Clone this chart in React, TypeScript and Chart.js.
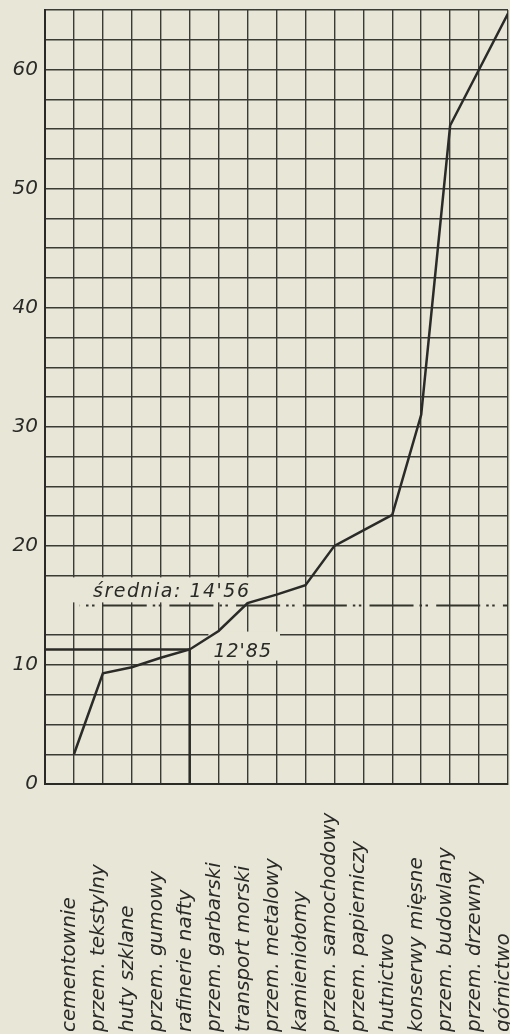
import React, { useEffect, useRef } from "react";
import { Chart, registerables } from "chart.js";

Chart.register(...registerables);

// ---- data ----
const categories = [
  "cementownie",
  "przem. tekstylny",
  "huty szklane",
  "przem. gumowy",
  "rafinerie nafty",
  "przem. garbarski",
  "transport morski",
  "przem. metalowy",
  "kamieniołomy",
  "przem. samochodowy",
  "przem. papierniczy",
  "hutnictwo",
  "konserwy mięsne",
  "przem. budowlany",
  "przem. drzewny",
  "górnictwo",
];
const ranks = [1, 2, 3, 4, 5, 6, 7, 8, 9, 10, 11, 12, 13, 14, 15, 16];
const values = [2.5, 9.3, 9.8, 10.6, 11.3, 12.85, 15.2, 15.9, 16.7, 20.0, 21.3, 22.6, 31.0, 55.3, 60.0, 64.7];

const yLabelValues = [0, 10, 20, 30, 40, 50, 60];
const yMax = 65;
const yGridStep = 2.5;

const averageText = "średnia: 14'56";
const averageLevel = 15; // where the dash-dot line is drawn in the picture
const averageFrom = 1.2;
const averageTo = 16;
const averageLabelAt = { x: 1.66, y: 15 };

const markerRank = 5;
const markerLevel = 11.3;

const valueText = "12'85";
const valueLabelAt = { x: 5.82, y: 10.7 };

// ---- styles ----
const PAPER = "#e8e6d6";
const INK = "#2a2a28";
const GRID = "#3a3a36";
const FONT = "'DejaVu Sans', sans-serif";

export default function App() {
  const ref = useRef<HTMLCanvasElement | null>(null);

  useEffect(() => {
    const canvas = ref.current;
    if (!canvas) return;

    const paperPlugin = {
      id: "paper",
      beforeDraw(chart: any) {
        const { ctx, width, height } = chart;
        ctx.save();
        ctx.fillStyle = PAPER;
        ctx.fillRect(0, 0, width, height);
        ctx.restore();
      },
    };

    const labelBoxes = (chart: any) => {
      const xs = chart.scales.x;
      const ys = chart.scales.y;
      const ctx = chart.ctx;
      const res: any[] = [];
      ctx.save();
      ctx.font = `italic 19px ${FONT}`;
      (ctx as any).letterSpacing = "1.5px";
      const w1 = ctx.measureText(averageText).width;
      ctx.restore();
      const ax = xs.getPixelForValue(averageLabelAt.x);
      const ay = ys.getPixelForValue(averageLabelAt.y) - 8;
      res.push({ text: averageText, x: ax, y: ay, spacing: "1.5px", box: [ax - 22, ay - 20, w1 + 27, 25] });
      ctx.save();
      ctx.font = `italic 19px ${FONT}`;
      (ctx as any).letterSpacing = "1px";
      const w2 = ctx.measureText(valueText).width;
      ctx.restore();
      const vx = xs.getPixelForValue(valueLabelAt.x);
      const vy = ys.getPixelForValue(valueLabelAt.y);
      res.push({ text: valueText, x: vx, y: vy, spacing: "1px", box: [vx - 5, vy - 25, w2 + 13, 29] });
      return res;
    };

    const annotationPlugin = {
      id: "annot",
      beforeDatasetsDraw(chart: any) {
        const ctx = chart.ctx;
        ctx.save();
        ctx.fillStyle = PAPER;
        for (const b of labelBoxes(chart)) {
          ctx.fillRect(b.box[0], b.box[1], b.box[2], b.box[3]);
        }
        ctx.restore();
      },
      afterDatasetsDraw(chart: any) {
        const ctx = chart.ctx;
        for (const b of labelBoxes(chart)) {
          ctx.save();
          ctx.font = `italic 19px ${FONT}`;
          (ctx as any).letterSpacing = b.spacing;
          ctx.fillStyle = INK;
          ctx.textAlign = "left";
          ctx.textBaseline = "alphabetic";
          ctx.fillText(b.text, b.x, b.y);
          ctx.restore();
        }
      },
      afterDraw(chart: any) {
        const ctx = chart.ctx;
        const xs = chart.scales.x;
        const baseY = 1032;
        ctx.save();
        ctx.font = `italic 20px ${FONT}`;
        ctx.fillStyle = INK;
        ctx.textAlign = "left";
        ctx.textBaseline = "alphabetic";
        categories.forEach((c, i) => {
          const px = xs.getPixelForValue(ranks[i]) + 1;
          ctx.save();
          ctx.translate(px, baseY);
          ctx.rotate(-Math.PI / 2);
          ctx.fillText(c, 0, 0);
          ctx.restore();
        });
        ctx.restore();
      },
    };

    const chart = new Chart(canvas, {
      type: "line",
      data: {
        datasets: [
          {
            label: "wartości",
            data: ranks.map((r, i) => ({ x: r, y: values[i] })),
            borderColor: INK,
            borderWidth: 2.5,
            pointRadius: 0,
            tension: 0,
            fill: false,
          },
          {
            label: "średnia",
            data: [
              { x: averageFrom, y: averageLevel },
              { x: averageTo, y: averageLevel },
            ],
            borderColor: "#34342f",
            borderWidth: 2,
            borderDash: [44, 6, 2.5, 3.5, 2.5, 8.2],
            borderDashOffset: 43.7,
            pointRadius: 0,
            fill: false,
          },
          {
            label: "znacznik",
            data: [
              { x: 0, y: markerLevel },
              { x: markerRank, y: markerLevel },
              { x: markerRank, y: 0 },
            ],
            borderColor: INK,
            borderWidth: 2.5,
            pointRadius: 0,
            fill: false,
          },
        ],
      },
      options: {
        responsive: false,
        animation: false,
        events: [],
        layout: { padding: { top: 10, right: 2, left: 0, bottom: 0 } },
        plugins: {
          legend: { display: false },
          tooltip: { enabled: false },
          title: { display: false },
        },
        scales: {
          x: {
            type: "linear",
            min: 0,
            max: ranks.length,
            ticks: { display: false, stepSize: 1 },
            grid: { color: GRID, lineWidth: 1.4, drawTicks: false },
            border: { color: INK, width: 2 },
            afterFit(scale: any) {
              scale.height = 250;
              scale.paddingLeft = 0;
              scale.paddingRight = 0;
            },
          },
          y: {
            type: "linear",
            min: 0,
            max: yMax,
            ticks: {
              stepSize: yGridStep,
              autoSkip: false,
              padding: 7,
              color: INK,
              font: { family: FONT, size: 20, style: "italic", lineHeight: 1 },
              callback: (v: any) => (yLabelValues.includes(Number(v)) ? String(v) : ""),
            },
            grid: {
              color: (c: any) => (c.tick && c.tick.value === averageLevel ? "rgba(0,0,0,0)" : GRID),
              lineWidth: 1.4,
              drawTicks: false,
            },
            border: { color: INK, width: 2 },
            afterFit(scale: any) {
              scale.width = 45;
              scale.paddingTop = 0;
              scale.paddingBottom = 0;
            },
          },
        },
      },
      plugins: [paperPlugin, annotationPlugin],
    });

    return () => chart.destroy();
  }, []);

  return (
    <div style={{ position: "fixed", left: 0, top: 0, width: 510, height: 1034, background: PAPER }}>
      <canvas ref={ref} width={510} height={1034} style={{ display: "block" }} />
    </div>
  );
}
